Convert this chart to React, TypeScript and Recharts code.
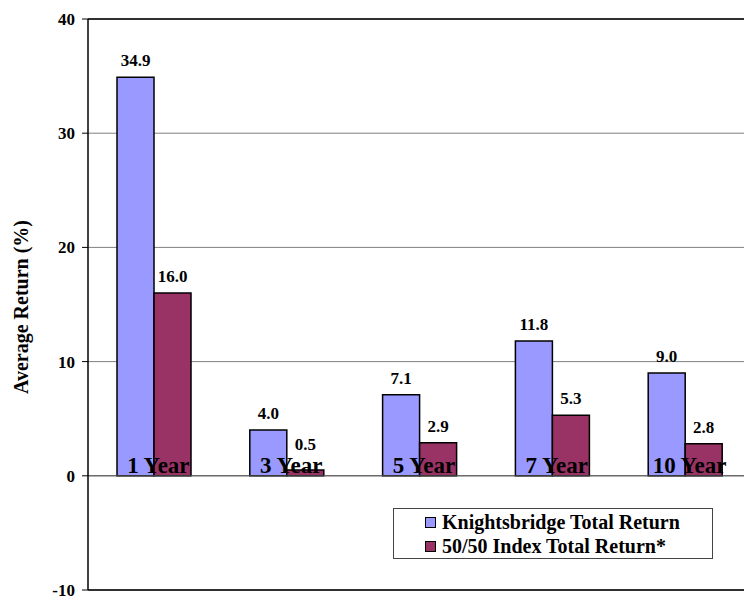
import React from "react";
import {
  BarChart,
  Bar,
  XAxis,
  YAxis,
  CartesianGrid,
  ReferenceLine,
  LabelList,
} from "recharts";

const periods = ["1 Year", "3 Year", "5 Year", "7 Year", "10 Year"];
const knightsbridge = [34.9, 4.0, 7.1, 11.8, 9.0];
const index5050 = [16.0, 0.5, 2.9, 5.3, 2.8];
const yTicks = [-10, 0, 10, 20, 30, 40];

const data = periods.map((p, i) => ({
  period: p,
  knights: knightsbridge[i],
  index: index5050[i],
}));

const FONT = "'Liberation Serif', 'Times New Roman', serif";
const BLUE = "#9999ff";
const PLUM = "#993366";

// plot box: top 19, bottom 590 -> zero line sits 4/5 of the way down
const PLOT_TOP = 19;
const PLOT_H = 571;
const ZERO_Y = PLOT_TOP + PLOT_H * (40 / 50);

const legendItems = [
  { name: "Knightsbridge Total Return", color: BLUE },
  { name: "50/50 Index Total Return*", color: PLUM },
];

const CategoryTick = (props: any) => {
  const { x, payload } = props;
  return (
    <text
      x={x + 4}
      y={ZERO_Y - 3}
      textAnchor="middle"
      fontFamily={FONT}
      fontWeight="bold"
      fontSize={23}
      fill="#000"
    >
      {payload.value}
    </text>
  );
};

// value label above a bar; kept clear of the category text sitting on the zero line
const ValueLabel = (props: any) => {
  const { x, y, width, value } = props;
  const baseY = Math.min(Number(y) - 11, ZERO_Y - 26);
  return (
    <text
      x={Number(x) + Number(width) / 2}
      y={baseY}
      textAnchor="middle"
      fontFamily={FONT}
      fontWeight="bold"
      fontSize={17}
      fill="#000"
    >
      {Number(value).toFixed(1)}
    </text>
  );
};

const LegendBox = () => (
  <div
    style={{
      position: "absolute",
      left: 393,
      top: 508,
      width: 320,
      height: 51,
      border: "1px solid #444",
      background: "#fff",
      fontFamily: FONT,
      fontWeight: "bold",
      fontSize: 20,
      color: "#000",
      paddingLeft: 31,
      boxSizing: "border-box",
      paddingTop: 1,
    }}
  >
    {legendItems.map((it) => (
      <div key={it.name} style={{ display: "flex", alignItems: "center", height: 24, whiteSpace: "nowrap" }}>
        <span
          style={{
            display: "inline-block",
            width: 9,
            height: 9,
            background: it.color,
            border: "1.5px solid #000",
            marginRight: 6,
          }}
        />
        {it.name}
      </div>
    ))}
  </div>
);

export default function App() {
  return (
    <div
      style={{
        position: "absolute",
        left: 0,
        top: 0,
        width: 744,
        height: 596,
        overflow: "hidden",
        background: "#fff",
      }}
    >
      <BarChart
        width={752}
        height={610}
        data={data}
        margin={{ top: PLOT_TOP, right: 0, left: 0, bottom: 14 }}
        barGap={0}
      >
        <CartesianGrid vertical={false} stroke="#808080" />
        <XAxis
          dataKey="period"
          height={6}
          tickLine={false}
          axisLine={{ stroke: "#000", strokeWidth: 1.5 }}
          tick={<CategoryTick />}
          interval={0}
        />
        <YAxis
          width={88}
          domain={[-10, 40]}
          ticks={yTicks}
          interval={0}
          tickSize={6}
          tickMargin={7}
          axisLine={{ stroke: "#000", strokeWidth: 1.5 }}
          tickLine={{ stroke: "#000" }}
          tick={{ fontFamily: FONT, fontWeight: "bold", fontSize: 17, fill: "#000" }}
          label={{
            content: () => (
              <text
                transform="rotate(-90 28 307)"
                x={28}
                y={307}
                textAnchor="middle"
                fontFamily={FONT}
                fontWeight="bold"
                fontSize={20}
                fill="#000"
              >
                Average Return (%)
              </text>
            ),
          }}
        />
        <ReferenceLine y={0} stroke="#555" />
        <ReferenceLine y={40} stroke="#000" strokeWidth={1.5} />
        <Bar dataKey="knights" fill={BLUE} stroke="#000" strokeWidth={1.5} barSize={37} isAnimationActive={false}>
          <LabelList dataKey="knights" content={<ValueLabel />} />
        </Bar>
        <Bar dataKey="index" fill={PLUM} stroke="#000" strokeWidth={1.5} barSize={37} isAnimationActive={false}>
          <LabelList dataKey="index" content={<ValueLabel />} />
        </Bar>
      </BarChart>
      <LegendBox />
    </div>
  );
}
